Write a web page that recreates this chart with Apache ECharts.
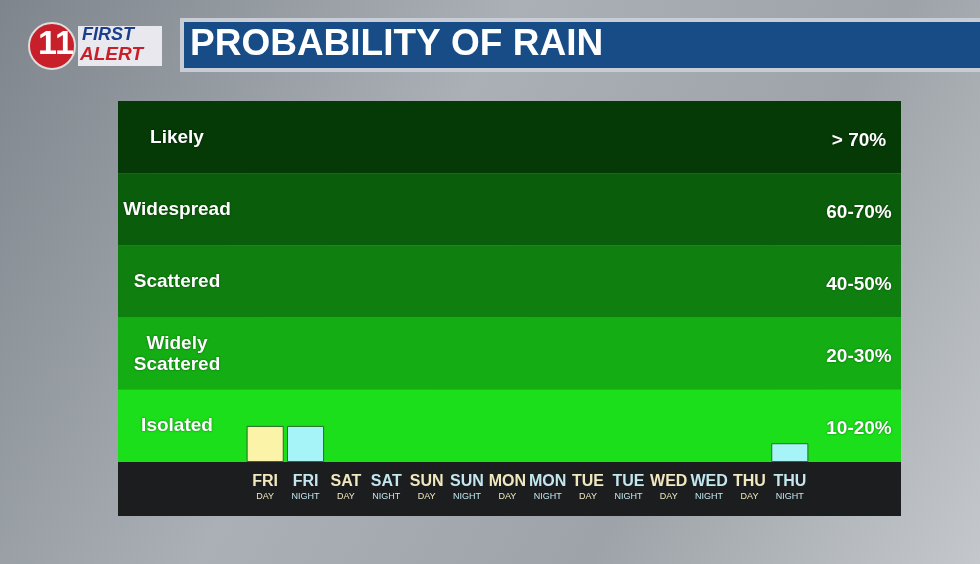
<!DOCTYPE html><html><head><meta charset="utf-8">
<script src="https://cdn.jsdelivr.net/npm/echarts@6/dist/echarts.min.js"></script>
<style>html,body{margin:0;padding:0}#c{width:980px;height:564px}</style></head><body><div id="c"></div>
<script>
const days = ['FRI','FRI','SAT','SAT','SUN','SUN','MON','MON','TUE','TUE','WED','WED','THU','THU'];
const parts = ['DAY','NIGHT','DAY','NIGHT','DAY','NIGHT','DAY','NIGHT','DAY','NIGHT','DAY','NIGHT','DAY','NIGHT'];
const rainLevel = [0.5,0.5,0,0,0,0,0,0,0,0,0,0,0,0.26];
const bandNames = ['Isolated','Widely\nScattered','Scattered','Widespread','Likely'];
const bandRanges = ['10-20%','20-30%','40-50%','60-70%','> 70%'];
const bandColors = ['#1adf1a','#14ad14','#0f800f','#0a5d0a','#053a06'];
const chart = echarts.init(document.getElementById('c'));
const F = 'Liberation Sans';
const cats = days.map((d,i)=>d+'\n'+parts[i]);
chart.setOption({
  animation:false,
  backgroundColor:{type:'linear',x:0,y:0,x2:1,y2:1,colorStops:[{offset:0,color:'#7f858c'},{offset:0.4,color:'#aab0b6'},{offset:0.7,color:'#9da3a8'},{offset:1,color:'#c4c8cc'}]},
  graphic:[
    {type:'rect',z:-1,shape:{x:118,y:462,width:783,height:54},style:{fill:'#1c1d1f'}},
    {type:'rect',shape:{x:180,y:18,width:800,height:54},style:{fill:'#c8ccd4'}},
    {type:'rect',shape:{x:184,y:22,width:796,height:46},style:{fill:'#174c86'}},
    {type:'text',left:190,top:26,style:{text:'PROBABILITY OF RAIN',fill:'#fff',font:'bold 37px '+F}},
    {type:'circle',shape:{cx:52,cy:46,r:23},style:{fill:'#c8202a',stroke:'#ddd',lineWidth:2}},
    {type:'text',left:38,top:28,style:{text:'11',fill:'#fff',font:'bold 34px '+F}},
    {type:'rect',shape:{x:78,y:26,width:84,height:40},style:{fill:'#e8e8ee'}},
    {type:'text',left:82,top:26,style:{text:'FIRST',fill:'#1a3f8a',font:'bold italic 18px '+F}},
    {type:'text',left:80,top:45,style:{text:'ALERT',fill:'#c8202a',font:'bold italic 19px '+F}}
  ].concat(bandNames.map((n,i)=>({type:'text',z:100,x:177,y:426-i*72,style:{text:n,fill:'#fff',font:'bold 19px '+F,align:'center',verticalAlign:'middle',lineHeight:21,textShadowColor:'rgba(0,0,0,0.5)',textShadowBlur:2}})))
   .concat(bandRanges.map((n,i)=>({type:'text',z:100,x:859,y:429-i*72,style:{text:n,fill:'#fff',font:'bold 19px '+F,align:'center',verticalAlign:'middle',textShadowColor:'rgba(0,0,0,0.5)',textShadowBlur:2}}))),
  grid:[{left:118,right:79,top:101,bottom:102},{left:245,right:170,top:101,bottom:102}],
  xAxis:[{gridIndex:0,type:'value',min:0,max:1,show:false},
    {gridIndex:1,type:'category',data:cats,axisLine:{show:false},axisTick:{show:false},
     axisLabel:{margin:10,interval:0,formatter:(v,i)=>{const k=i%2?'n':'d';return '{'+k+'|'+days[i]+'}\n{'+k+'s|'+parts[i]+'}';},
       rich:{d:{color:'#f1e8bf',fontWeight:'bold',fontSize:16,fontFamily:F,lineHeight:20},n:{color:'#c3e6ef',fontWeight:'bold',fontSize:16,fontFamily:F,lineHeight:20},
             ds:{color:'#f1e8bf',fontSize:9,fontFamily:F},ns:{color:'#c3e6ef',fontSize:9,fontFamily:F}}}}],
  yAxis:[{gridIndex:0,type:'value',min:0,max:5,show:false},{gridIndex:1,type:'value',min:0,max:5,show:false}],
  series:[
    {type:'line',xAxisIndex:0,yAxisIndex:0,data:[],
     markArea:{silent:true,data:bandColors.map((c,i)=>[{yAxis:i,itemStyle:{color:c}},{yAxis:i+1}])}},
    {type:'bar',xAxisIndex:1,yAxisIndex:1,barWidth:'92%',
     data:rainLevel.map((v,i)=>({value:v,itemStyle:{color:i%2?'#a6f3f8':'#fbf3a8',borderColor:'#2a6a2a',borderWidth:v>0?1:0}}))}
  ]
});
</script></body></html>
